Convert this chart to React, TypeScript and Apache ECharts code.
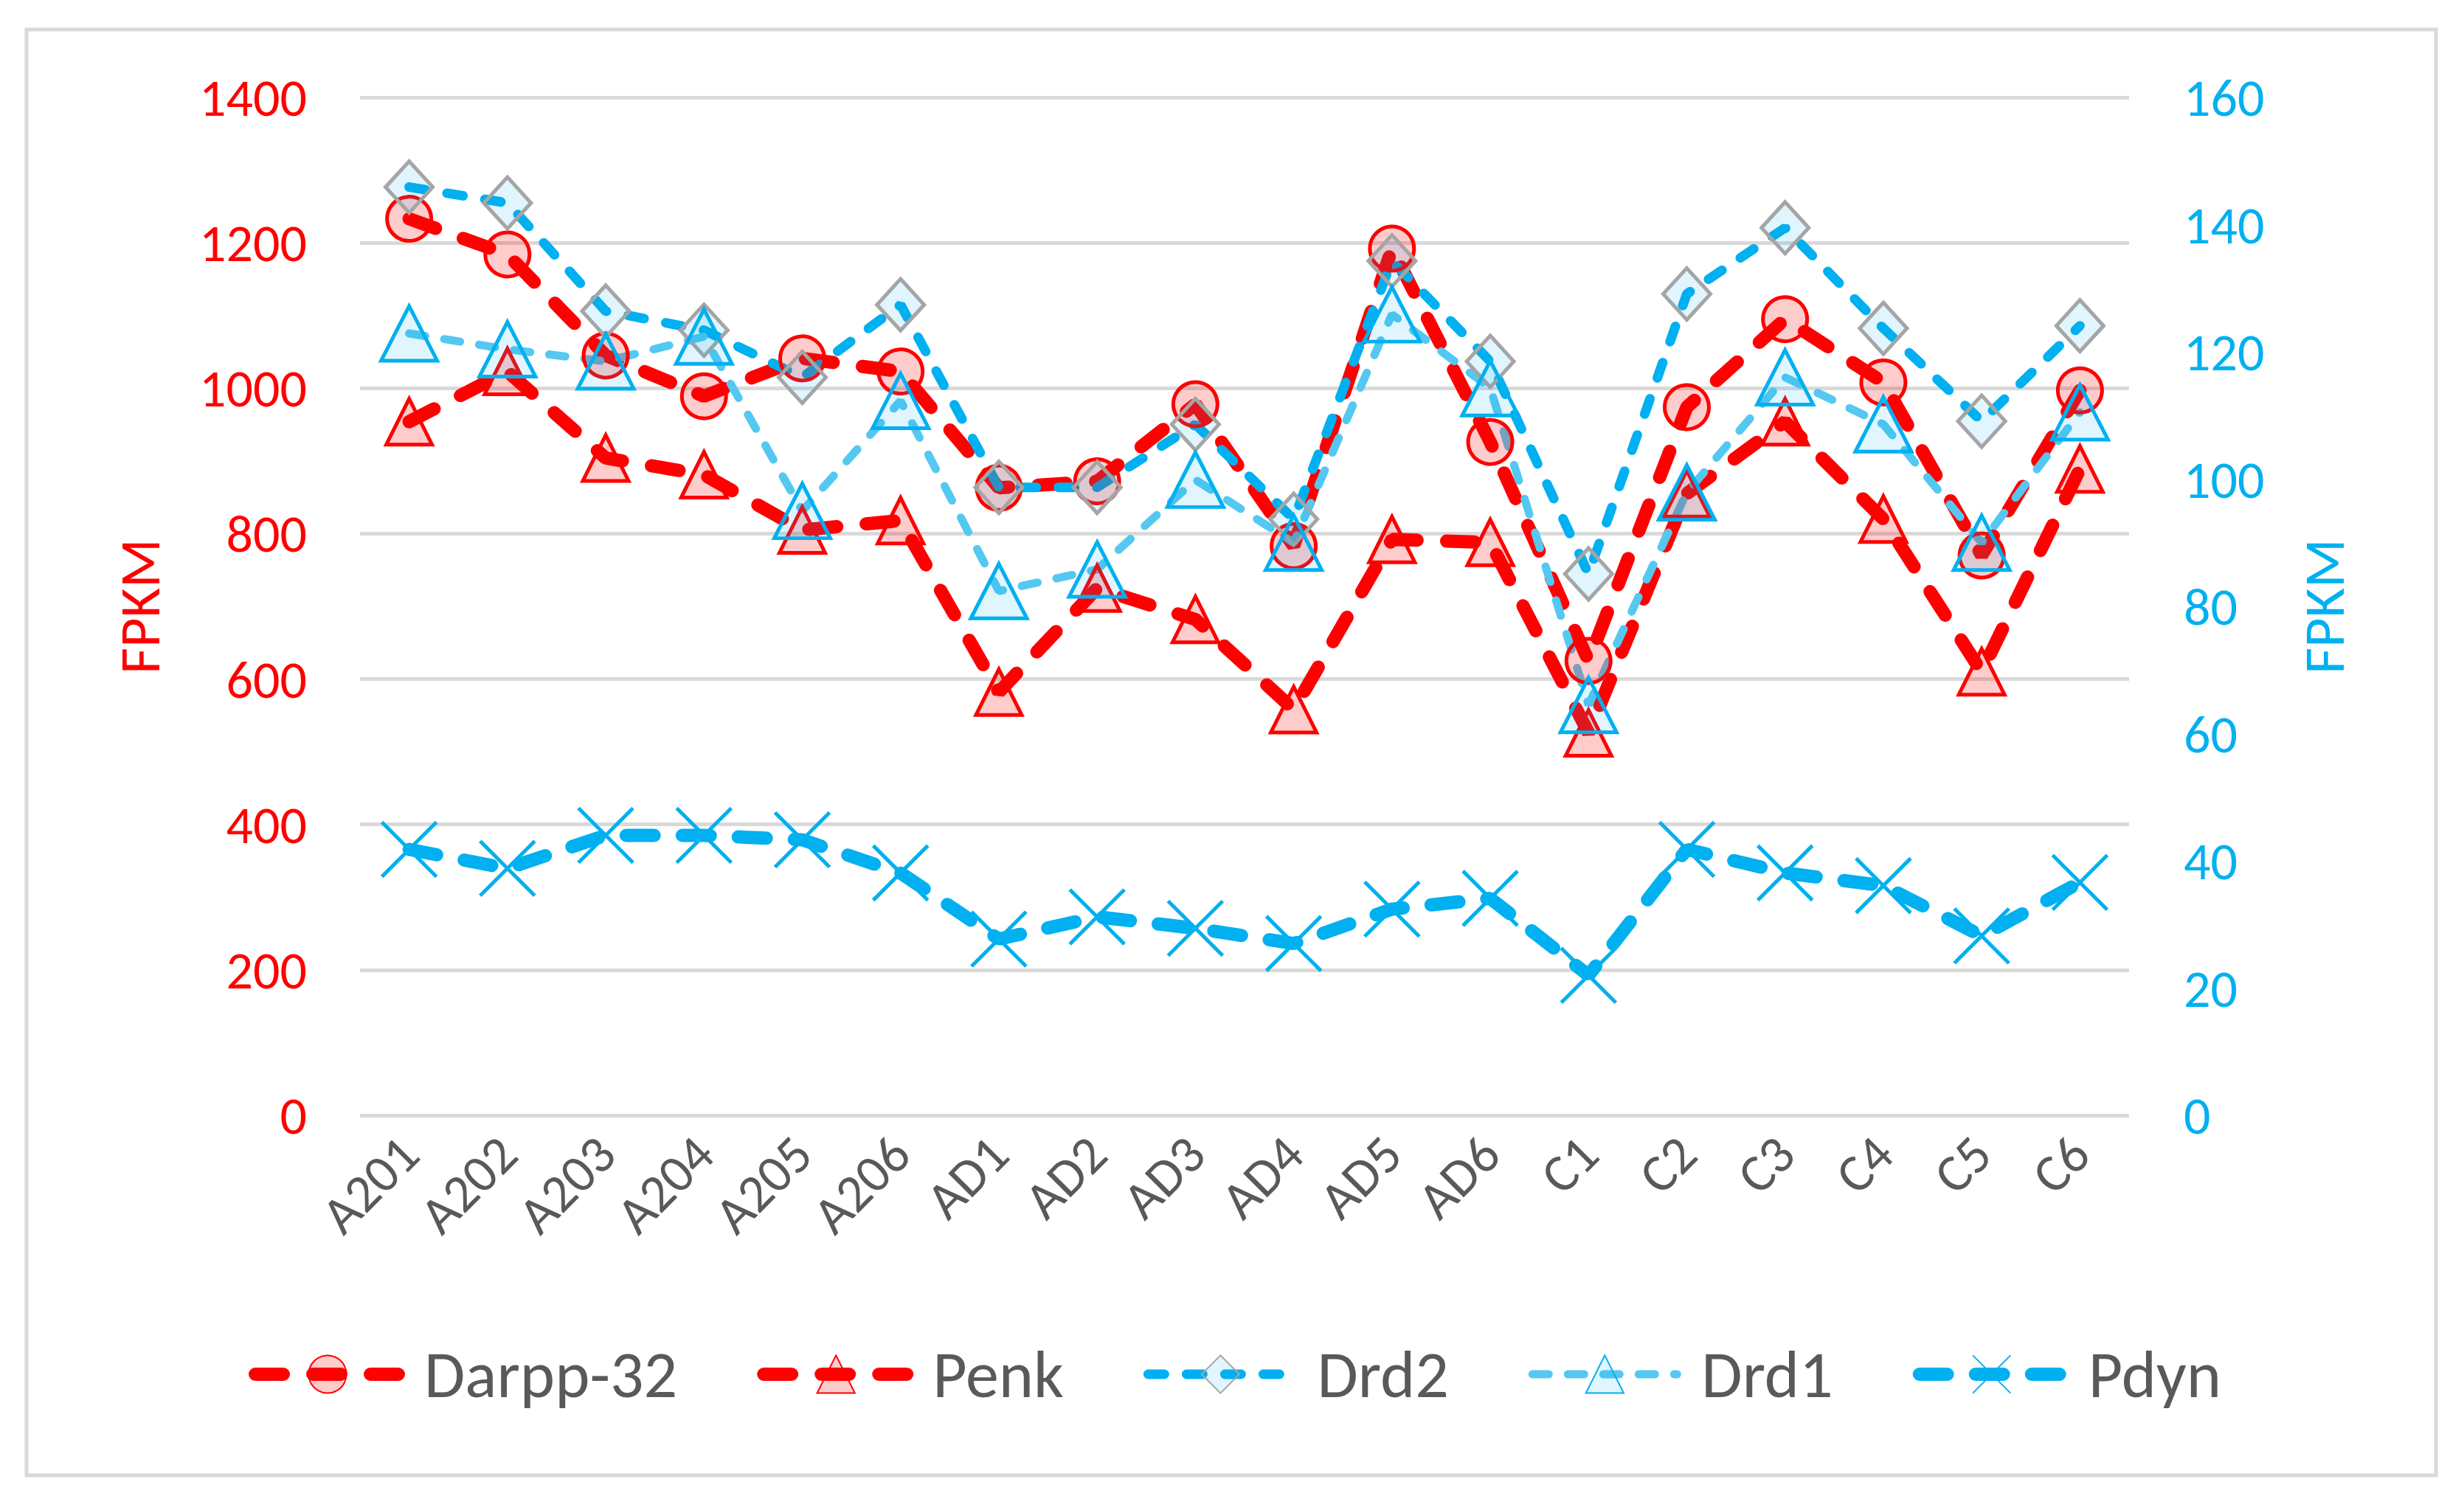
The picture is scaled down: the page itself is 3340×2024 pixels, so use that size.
import React, { useEffect, useRef } from "react";
import * as echarts from "echarts";

const categories = ["A201", "A202", "A203", "A204", "A205", "A206", "AD1", "AD2", "AD3", "AD4", "AD5", "AD6", "C1", "C2", "C3", "C4", "C5", "C6"];
const leftTicks = [0, 1400, 200];
const rightTicks = [0, 160, 20];
const darpp32 = [1233, 1184, 1045, 989, 1041, 1023, 863, 872, 978, 783, 1192, 926, 625, 974, 1095, 1008, 770, 997];
const penk = [954, 1023, 904, 881, 805, 818, 582, 725, 682, 558, 792, 788, 526, 855, 954, 820, 610, 889];
const drd2 = [145.9, 143.4, 126.4, 123.4, 116, 127.4, 98.7, 98.7, 108.6, 93.7, 134.3, 118.5, 85.1, 129.1, 139.5, 123.7, 109.1, 124.1];
const drd1 = [122.9, 120.4, 118.5, 122.4, 95, 112.3, 82.4, 85.8, 99.9, 90, 125.9, 114.3, 64.5, 97.9, 116, 108.6, 90, 110.5];
const pdyn = [41.8, 38.8, 44, 44, 43.3, 38.1, 27.7, 31.2, 29.4, 27, 32.4, 34.1, 22, 41.8, 38.1, 36.1, 28.2, 36.6];

const FONT = "Carlito, 'Liberation Sans Narrow', 'DejaVu Sans Condensed', 'Noto Sans', sans-serif";
const RED = "#FF0000";
const BLUE = "#00B0F0";
const LBLUE = "#55C8F2";

const styles: any = {
  "Darpp-32": { width: 18, type: [38, 40], color: RED },
  Penk: { width: 18, type: [38, 40], color: RED },
  Drd2: { width: 13, type: [22, 30], color: BLUE },
  Drd1: { width: 11, type: [22, 26], color: LBLUE },
  Pdyn: { width: 18, type: [38, 38], color: BLUE },
};

export default function App() {
  const ref = useRef<HTMLDivElement>(null);
  useEffect(() => {
    if (!ref.current) return;
    const chart = echarts.init(ref.current, null, { renderer: "svg" });
    const names = ["Darpp-32", "Penk", "Drd2", "Drd1", "Pdyn"];
    const option: any = {
      animation: false,
      backgroundColor: "#fff",
      textStyle: { fontFamily: FONT },
      graphic: [
        {
          type: "rect",
          shape: { x: 36, y: 40, width: 3266, height: 1960 },
          style: { fill: "none", stroke: "#D9D9D9", lineWidth: 5 },
          silent: true,
        },
      ],
      grid: { left: 488, right: 454, top: 132, bottom: 512, containLabel: false },
      legend: {
        bottom: 2024 - 1873 - 40,
        left: 332,
        itemWidth: 196,
        itemHeight: 64,
        itemGap: 108,
        textStyle: { fontFamily: FONT, fontSize: 90, color: "#595959", padding: [0, 0, 0, 28] },
        data: names.map((n) => ({
          name: n,
          lineStyle: { width: styles[n].width, type: styles[n].type, cap: "round", color: styles[n].color },
        })),
      },
      xAxis: {
        type: "category",
        data: categories,
        boundaryGap: true,
        axisLine: { show: false },
        axisTick: { show: false },
        axisLabel: { rotate: 45, fontSize: 72, color: "#595959", margin: 40, fontFamily: FONT },
      },
      yAxis: [
        {
          type: "value",
          min: leftTicks[0],
          max: leftTicks[1],
          interval: leftTicks[2],
          position: "left",
          name: "FPKM",
          nameLocation: "middle",
          nameRotate: 90,
          nameGap: 260,
          nameTextStyle: { color: RED, fontSize: 78, fontFamily: FONT },
          axisLine: { show: false },
          axisTick: { show: false },
          axisLabel: { color: RED, fontSize: 72, margin: 72, fontFamily: FONT, formatter: (v: number) => String(v) },
          splitLine: { lineStyle: { color: "#D9D9D9", width: 5 } },
        },
        {
          type: "value",
          min: rightTicks[0],
          max: rightTicks[1],
          interval: rightTicks[2],
          position: "right",
          name: "FPKM",
          nameLocation: "middle",
          nameRotate: 90,
          nameGap: 225,
          nameTextStyle: { color: BLUE, fontSize: 78, fontFamily: FONT },
          axisLine: { show: false },
          axisTick: { show: false },
          axisLabel: { color: BLUE, fontSize: 72, margin: 74, fontFamily: FONT, formatter: (v: number) => String(v) },
          splitLine: { show: false },
        },
      ],
      series: [
        {
          name: "Darpp-32",
          type: "line",
          yAxisIndex: 0,
          data: darpp32,
          symbol: "circle",
          symbolSize: 60,
          lineStyle: { ...styles["Darpp-32"], cap: "round" },
          itemStyle: { color: "rgba(255,0,0,0.2)", borderColor: RED, borderWidth: 5 },
        },
        {
          name: "Penk",
          type: "line",
          yAxisIndex: 0,
          data: penk,
          symbol: "triangle",
          symbolSize: 62,
          lineStyle: { ...styles.Penk, cap: "round" },
          itemStyle: { color: "rgba(255,0,0,0.2)", borderColor: RED, borderWidth: 5 },
        },
        {
          name: "Drd2",
          type: "line",
          yAxisIndex: 1,
          data: drd2,
          symbol: "diamond",
          symbolSize: [64, 70],
          lineStyle: { ...styles.Drd2, cap: "round" },
          itemStyle: { color: "rgba(0,176,240,0.12)", borderColor: "#A5A5A5", borderWidth: 5 },
        },
        {
          name: "Drd1",
          type: "line",
          yAxisIndex: 1,
          data: drd1,
          symbol: "triangle",
          symbolSize: [76, 74],
          lineStyle: { ...styles.Drd1, cap: "round" },
          itemStyle: { color: "rgba(0,176,240,0.12)", borderColor: BLUE, borderWidth: 5 },
        },
        {
          name: "Pdyn",
          type: "line",
          yAxisIndex: 1,
          data: pdyn,
          symbol: "path://M0,0L10,10M10,0L0,10",
          symbolSize: 74,
          lineStyle: { ...styles.Pdyn, cap: "round" },
          itemStyle: { color: BLUE, borderColor: BLUE, borderWidth: 5 },
        },
      ],
    };
    chart.setOption(option);
    return () => chart.dispose();
  }, []);
  return (
    <div
      ref={ref}
      style={{ position: "fixed", left: 0, top: 0, width: 3340, height: 2024, background: "#fff" }}
    />
  );
}
